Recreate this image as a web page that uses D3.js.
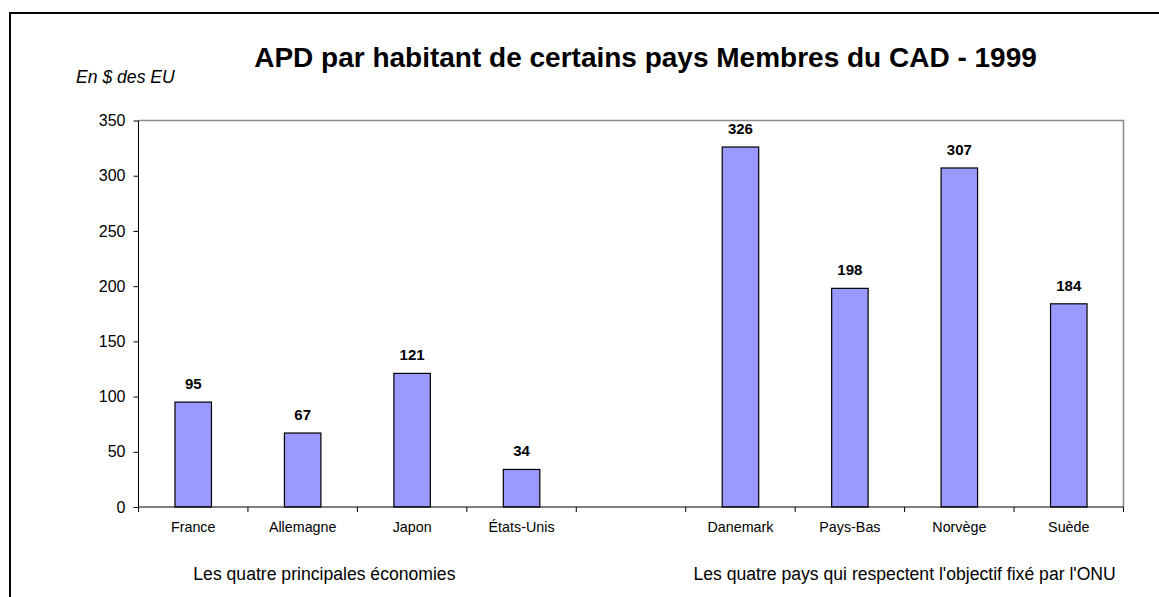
<!DOCTYPE html>
<html>
<head>
<meta charset="utf-8">
<script src="https://cdn.jsdelivr.net/npm/d3@7"></script>
<style>
	body { margin: 0; background: #fff; overflow: hidden; }
	svg { display: block; font-family: Arial, "Liberation Sans", sans-serif; }
</style>
</head>
<body>
<div id="chart"></div>
<script>
// Data
var categories = ["France", "Allemagne", "Japon", "États-Unis", "", "Danemark", "Pays-Bas", "Norvège", "Suède"];
var values = [95, 67, 121, 34, null, 326, 198, 307, 184];
var yTicks = [0, 50, 100, 150, 200, 250, 300, 350];
var groupLabels = ["Les quatre principales économies", "Les quatre pays qui respectent l'objectif fixé par l'ONU"];
var title = "APD par habitant de certains pays Membres du CAD - 1999";
var unitLabel = "En $ des EU";

var width = 1159,
		height = 597,
		margin = {top: 120.5, right: 35.5, bottom: 90, left: 138.5};

var innerWidth = width - margin.left - margin.right,
		innerHeight = height - margin.top - margin.bottom;

var svg = d3.select("#chart").append("svg")
		.attr("width", width)
		.attr("height", height);

// Outer frame (only top and left edges visible)
svg.append("path")
		.attr("d", "M10,597V13H1159")
		.attr("fill", "none")
		.attr("stroke", "#000")
		.attr("stroke-width", 2);

var xScale = d3.scaleBand().domain(d3.range(categories.length)).range([0, innerWidth]).padding(0);
var yScale = d3.scaleLinear().domain([0, 350]).range([innerHeight, 0]);

var g = svg.append("g")
		.attr("transform", "translate(" + margin.left + "," + margin.top + ")");

// Plot area border (top and right, gray)
g.append("path")
		.attr("d", "M0,0H" + innerWidth + "V" + innerHeight)
		.attr("fill", "none")
		.attr("stroke", "#8c8c8c")
		.attr("stroke-width", 1.5);

// Bars
var barWidth = xScale.bandwidth() / 3;
var barData = values.map(function(v, i) { return {i: i, value: v}; })
		.filter(function(d) { return d.value !== null; });

g.selectAll(".bar")
		.data(barData)
		.enter().append("rect")
		.attr("class", "bar")
		.attr("x", function(d) { return xScale(d.i) + (xScale.bandwidth() - barWidth) / 2; })
		.attr("y", function(d) { return yScale(d.value); })
		.attr("width", barWidth)
		.attr("height", function(d) { return innerHeight - yScale(d.value); })
		.attr("fill", "#9999ff")
		.attr("stroke", "#000")
		.attr("stroke-width", 1.2);

// Value labels
g.selectAll(".value")
		.data(barData)
		.enter().append("text")
		.attr("class", "value")
		.attr("x", function(d) { return xScale(d.i) + xScale.bandwidth() / 2; })
		.attr("y", function(d) { return yScale(d.value) - 13; })
		.attr("text-anchor", "middle")
		.attr("font-size", "15px")
		.attr("font-weight", "bold")
		.text(function(d) { return d.value; });

// Y axis
var yAxis = d3.axisLeft(yScale).tickValues(yTicks).tickSize(5).tickPadding(8);
var yg = g.append("g").attr("class", "y axis").call(yAxis);
yg.selectAll("text").attr("font-size", "16px").attr("fill", "#000");
yg.selectAll("line").attr("stroke", "#000");
yg.select(".domain").attr("d", "M0," + innerHeight + "V0").attr("stroke", "#000");

// X axis with labels, ticks on slot boundaries
var xAxis = d3.axisBottom(xScale).tickFormat(function(i) { return categories[i]; }).tickSize(0).tickPadding(15);
var xg = g.append("g").attr("class", "x axis")
		.attr("transform", "translate(0," + innerHeight + ")")
		.call(xAxis);
xg.selectAll("text").attr("font-size", "14.3px").attr("fill", "#000");
xg.select(".domain").attr("d", "M0,0H" + innerWidth).attr("stroke", "#000");
xg.selectAll(".boundary")
		.data(d3.range(categories.length + 1))
		.enter().append("line")
		.attr("class", "boundary")
		.attr("x1", function(k) { return k * xScale.step(); })
		.attr("x2", function(k) { return k * xScale.step(); })
		.attr("y1", 0)
		.attr("y2", 5)
		.attr("stroke", "#000");

// Group labels
var groupX = [
	xScale(1) - 33 + xScale.bandwidth() / 2 + xScale.step() / 2,
	(xScale(5) + innerWidth) / 2
];
g.selectAll(".group-label")
		.data(groupLabels)
		.enter().append("text")
		.attr("class", "group-label")
		.attr("x", function(d, i) { return groupX[i]; })
		.attr("y", innerHeight + 73)
		.attr("text-anchor", "middle")
		.attr("font-size", "17.6px")
		.text(function(d) { return d; });

// Title and unit
svg.append("text")
		.attr("x", 645.5)
		.attr("y", 67)
		.attr("text-anchor", "middle")
		.attr("font-size", "28px")
		.attr("font-weight", "bold")
		.text(title);

svg.append("text")
		.attr("x", 76)
		.attr("y", 82.5)
		.attr("font-size", "17.6px")
		.attr("font-style", "italic")
		.text(unitLabel);
</script>
</body>
</html>
